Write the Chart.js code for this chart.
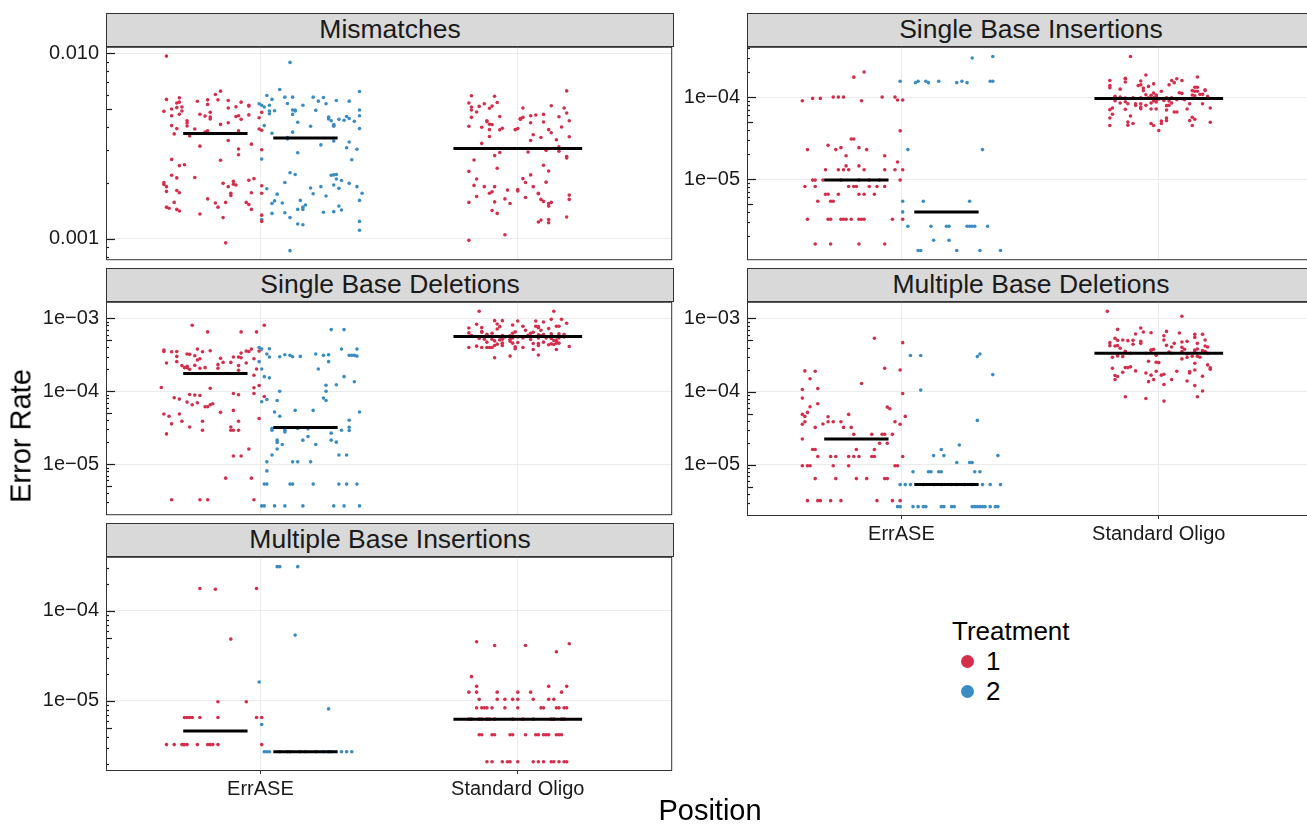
<!DOCTYPE html>
<html>
<head>
<meta charset="utf-8">
<title>Error Rate by Position</title>
<script src="https://cdn.jsdelivr.net/npm/chart.js@4.4.1/dist/chart.umd.min.js"></script>
<style>
  html, body { margin: 0; padding: 0; background: #fff; width: 1307px; height: 826px; overflow: hidden;
    font-family: "Liberation Sans", Arial, Helvetica, sans-serif; color: #1a1a1a; }
  canvas { position: absolute; }
  .strip { position: absolute; box-sizing: border-box; background: #d9d9d9; border: 1px solid #333;
    text-align: center; font-size: 26.5px; line-height: 31px; color: #1a1a1a; white-space: nowrap; }
  .title { position: absolute; font-size: 29px; color: #000; white-space: nowrap; }
  .legend { position: absolute; left: 952px; top: 616px; }
  .legend .head { font-size: 26px; line-height: 30px; color: #000; }
  .legend .item { position: relative; height: 30px; font-size: 26px; line-height: 30px; padding-left: 34px; color: #000; }
  .legend .dot { position: absolute; left: 9px; top: 8.5px; width: 13px; height: 13px; border-radius: 50%; }
</style>
</head>
<body>
<script>
// ---- categories, labels ----
const categories = ['ErrASE', 'Standard Oligo'];
const treatments = ['1', '2'];
const facetTitles = ['Mismatches', 'Single Base Insertions', 'Single Base Deletions',
  'Multiple Base Deletions', 'Multiple Base Insertions'];
const xTitle = 'Position';
const yTitle = 'Error Rate';
const legendTitle = 'Treatment';

// ---- Mismatches ----
const mmErr1Jit = [-0.19,-0.19,-0.14,-0.15,-0.14,-0.17,-0.15,-0.13,-0.20,-0.13,
  -0.14,-0.17,-0.11,-0.11,-0.11,-0.17,-0.15,-0.16,-0.10,-0.07,
  -0.03,-0.03,0.00,0.02,0.01,0.05,0.10,0.08,0.05,0.13,
  0.13,-0.06,-0.04,-0.02,-0.02,-0.02,0.05,0.02,0.08,0.09,
  0.10,0.13,-0.08,-0.04,-0.03,0.09,0.17,0.18,0.17,0.18,
  0.05,-0.06,0.09,0.09,0.14,0.18,-0.17,-0.14,-0.12,0.02,
  -0.17,-0.15,-0.08,-0.20,-0.20,-0.19,-0.19,-0.15,-0.14,0.03,
  0.05,0.07,0.07,0.08,0.06,0.06,0.13,0.15,0.14,0.18,
  0.18,-0.16,-0.19,-0.18,-0.15,-0.14,-0.06,-0.03,0.00,0.01,
  0.04,0.03,0.12,0.13,0.14,0.18,0.18,0.04];
const mmErr1Rate = [0.00968,0.00565,0.00576,0.00540,0.00546,0.00501,0.00510,0.00514,0.00487,0.00489,
  0.00470,0.00461,0.00433,0.00421,0.00406,0.00408,0.00393,0.00368,0.00359,0.00552,
  0.00562,0.00531,0.00600,0.00626,0.00562,0.00557,0.00546,0.00516,0.00508,0.00525,
  0.00520,0.00470,0.00459,0.00481,0.00454,0.00443,0.00423,0.00414,0.00457,0.00461,
  0.00441,0.00466,0.00391,0.00376,0.00382,0.00382,0.00450,0.00481,0.00391,0.00385,
  0.00339,0.00316,0.00305,0.00284,0.00324,0.00302,0.00268,0.00248,0.00251,0.00265,
  0.00220,0.00213,0.00214,0.00196,0.00201,0.00191,0.00180,0.00182,0.00177,0.00199,
  0.00191,0.00197,0.00204,0.00195,0.00176,0.00171,0.00207,0.00211,0.00177,0.00193,
  0.00176,0.00157,0.00148,0.00146,0.00144,0.00141,0.00136,0.00164,0.00156,0.00148,
  0.00157,0.00130,0.00157,0.00153,0.00144,0.00134,0.00124,0.00095];
const mmErr2Jit = [-0.06,-0.18,-0.17,-0.15,-0.13,-0.10,-0.08,-0.07,-0.05,-0.01,
  0.03,0.05,0.07,0.08,0.12,0.17,0.21,-0.16,-0.14,-0.14,
  -0.14,-0.12,-0.05,-0.04,-0.04,-0.05,0.04,-0.03,0.02,0.09,
  0.09,0.09,0.10,0.11,0.11,0.11,0.13,0.15,0.16,0.17,
  0.19,0.21,0.21,0.21,-0.16,-0.13,-0.07,-0.05,-0.07,0.06,
  0.11,0.17,0.16,0.20,-0.03,0.18,-0.17,-0.06,-0.04,0.10,
  0.11,0.12,0.12,0.14,0.11,0.13,0.17,0.20,-0.08,-0.15,
  -0.11,0.02,0.03,0.06,0.08,0.22,0.21,-0.12,-0.13,-0.09,
  -0.02,-0.01,-0.01,0.00,-0.03,0.13,0.14,0.11,0.07,-0.13,
  -0.08,-0.06,-0.03,-0.01,0.21,0.21,-0.17,-0.06];
const mmErr2Rate = [0.00895,0.00535,0.00525,0.00593,0.00565,0.00639,0.00581,0.00537,0.00581,0.00525,
  0.00581,0.00553,0.00579,0.00535,0.00557,0.00553,0.00623,0.00514,0.00489,0.00473,
  0.00525,0.00491,0.00495,0.00495,0.00489,0.00469,0.00493,0.00425,0.00405,0.00450,
  0.00454,0.00443,0.00433,0.00405,0.00410,0.00413,0.00441,0.00436,0.00457,0.00446,
  0.00430,0.00495,0.00461,0.00393,0.00408,0.00371,0.00352,0.00376,0.00346,0.00321,
  0.00337,0.00333,0.00310,0.00304,0.00291,0.00267,0.00269,0.00227,0.00222,0.00220,
  0.00221,0.00222,0.00210,0.00206,0.00195,0.00187,0.00199,0.00191,0.00201,0.00186,
  0.00174,0.00188,0.00175,0.00191,0.00170,0.00176,0.00161,0.00160,0.00155,0.00156,
  0.00161,0.00148,0.00144,0.00152,0.00144,0.00150,0.00143,0.00140,0.00139,0.00137,
  0.00138,0.00130,0.00120,0.00119,0.00124,0.00111,0.00127,0.000862];
const mmStd1Jit = [-0.18,-0.09,0.19,-0.19,-0.18,-0.18,-0.15,-0.13,-0.10,-0.11,
  -0.08,-0.16,-0.18,-0.07,-0.12,-0.12,-0.11,-0.10,-0.11,-0.14,
  -0.19,-0.07,-0.06,-0.11,0.02,0.01,0.02,0.01,0.05,0.07,
  0.10,0.05,0.10,0.13,0.16,0.18,0.19,0.20,0.17,0.12,
  0.13,0.09,0.06,0.05,0.15,0.20,0.00,-0.01,-0.14,-0.09,
  -0.07,0.04,0.11,0.16,0.16,0.19,0.19,-0.17,-0.19,-0.08,
  -0.16,-0.17,-0.13,-0.09,-0.10,-0.11,-0.16,-0.19,-0.09,-0.04,
  -0.05,-0.03,-0.10,-0.08,0.00,0.00,0.02,0.03,0.05,0.06,
  0.03,0.08,0.08,0.10,0.12,0.11,0.09,0.10,0.12,0.13,
  0.12,0.20,0.20,0.19,0.08,0.09,0.12,0.12,-0.05,-0.19];
const mmStd1Rate = [0.00591,0.00588,0.00628,0.00540,0.00514,0.00495,0.00518,0.00535,0.00520,0.00506,
  0.00544,0.00483,0.00452,0.00457,0.00433,0.00428,0.00415,0.00413,0.00388,0.00400,
  0.00405,0.00387,0.00395,0.00356,0.00508,0.00445,0.00452,0.00441,0.00461,0.00465,
  0.00469,0.00423,0.00427,0.00522,0.00455,0.00508,0.00477,0.00433,0.00401,0.00388,
  0.00373,0.00352,0.00364,0.00339,0.00342,0.00355,0.00393,0.00388,0.00327,0.00281,
  0.00292,0.00294,0.00300,0.00313,0.00297,0.00278,0.00273,0.00266,0.00231,0.00240,
  0.00210,0.00194,0.00191,0.00191,0.00179,0.00176,0.00169,0.00157,0.00158,0.00183,
  0.00164,0.00155,0.00142,0.00137,0.00184,0.00181,0.00211,0.00201,0.00221,0.00191,
  0.00167,0.00176,0.00175,0.00249,0.00232,0.00202,0.00163,0.00159,0.00155,0.00157,
  0.00150,0.00172,0.00163,0.00131,0.00123,0.00126,0.00127,0.00122,0.00105,0.00098];
const mmMedians = [0.00370, 0.00350, 0.00307];

// ---- Single Base Insertions ----
const sbiErr1Jit = [-0.01,0.03,-0.21,-0.17,-0.14,-0.09,-0.07,-0.05,0.02,0.10,
  0.15,0.16,0.18,0.17,-0.19,-0.11,-0.08,-0.06,-0.02,-0.01,
  0.01,0.04,-0.04,0.11,0.16,-0.12,-0.07,-0.05,-0.03,-0.04,
  0.01,0.03,0.11,0.15,0.18,-0.17,-0.16,-0.13,-0.06,0.01,
  0.05,0.09,0.17,-0.20,-0.16,-0.03,-0.01,0.00,0.05,0.08,
  0.11,-0.12,-0.11,-0.07,0.01,0.03,0.07,-0.15,-0.10,-0.09,
  -0.19,-0.11,-0.10,-0.06,-0.05,-0.04,-0.02,0.01,0.02,0.03,
  0.14,0.18,-0.16,-0.10,0.01,0.11];
const sbiErr1Rate = [1.75e-4,2.02e-4,9.03e-5,9.64e-5,9.64e-5,1.00e-4,1.00e-4,1.00e-4,9.03e-5,1.00e-4,
  1.00e-4,9.20e-5,9.20e-5,3.88e-5,2.29e-5,2.58e-5,2.29e-5,2.42e-5,3.08e-5,3.08e-5,
  2.42e-5,2.29e-5,1.93e-5,1.93e-5,1.62e-5,1.30e-5,1.30e-5,1.30e-5,1.30e-5,1.45e-5,
  1.45e-5,1.30e-5,1.30e-5,1.30e-5,1.30e-5,9.73e-6,9.73e-6,9.73e-6,9.73e-6,9.73e-6,
  9.73e-6,9.73e-6,9.73e-6,8.15e-6,8.15e-6,8.15e-6,8.15e-6,8.15e-6,8.15e-6,8.15e-6,
  8.15e-6,6.53e-6,6.53e-6,6.53e-6,6.53e-6,6.53e-6,6.53e-6,5.37e-6,5.37e-6,5.37e-6,
  3.25e-6,3.25e-6,3.25e-6,3.25e-6,3.25e-6,3.25e-6,3.25e-6,3.25e-6,3.25e-6,3.25e-6,
  3.25e-6,3.25e-6,1.62e-6,1.62e-6,1.62e-6,1.62e-6];
const sbiErr2Jit = [0.10,0.18,-0.18,-0.12,-0.11,-0.08,-0.07,-0.03,0.04,0.06,
  0.08,0.17,0.18,-0.15,0.14,-0.17,-0.09,0.09,-0.17,-0.15,
  -0.06,0.00,0.01,0.08,0.09,0.10,0.11,0.16,-0.05,0.01,
  -0.11,-0.10,0.04,0.13,0.21];
const sbiErr2Rate = [2.99e-4,3.13e-4,1.56e-4,1.50e-4,1.56e-4,1.56e-4,1.50e-4,1.56e-4,1.50e-4,1.56e-4,
  1.50e-4,1.56e-4,1.56e-4,2.29e-5,2.29e-5,5.37e-6,5.37e-6,5.37e-6,3.99e-6,2.67e-6,
  2.67e-6,2.67e-6,2.67e-6,2.67e-6,2.67e-6,2.67e-6,2.67e-6,2.67e-6,1.80e-6,1.80e-6,
  1.35e-6,1.35e-6,1.35e-6,1.35e-6,1.35e-6];
const sbiStd1Jit = [-0.11,-0.19,-0.19,-0.19,-0.13,-0.13,-0.13,-0.15,-0.05,-0.07,
  -0.08,-0.07,-0.06,-0.06,-0.04,-0.02,0.04,0.05,0.07,0.06,
  0.09,0.15,0.13,0.14,0.15,0.14,0.15,0.18,0.18,0.08,
  0.09,0.01,-0.05,-0.03,-0.02,-0.01,-0.01,-0.17,-0.15,-0.13,
  -0.10,-0.07,-0.04,0.00,0.03,0.05,0.07,0.10,0.13,0.14,
  0.16,0.17,0.19,-0.17,-0.15,-0.13,-0.12,-0.09,-0.09,-0.07,
  -0.07,-0.07,-0.05,-0.03,-0.02,-0.01,0.04,0.05,0.03,0.04,
  0.12,0.17,-0.18,-0.19,-0.13,-0.03,-0.01,0.03,0.06,0.07,
  0.11,0.20,-0.18,-0.11,-0.19,0.03,0.03,0.01,0.01,0.12,
  0.13,0.14,0.20,-0.19,-0.12,-0.12,-0.10,-0.03,-0.02,0.00,
  0.13,-0.02,-0.01,0.02,0.09];
const sbiStd1Rate = [3.13e-4,1.59e-4,1.38e-4,1.30e-4,1.67e-4,1.70e-4,1.53e-4,1.25e-4,1.86e-4,1.57e-4,
  1.38e-4,1.41e-4,1.29e-4,1.20e-4,1.35e-4,1.45e-4,1.41e-4,1.59e-4,1.67e-4,1.50e-4,
  1.59e-4,1.76e-4,1.20e-4,1.32e-4,1.32e-4,1.18e-4,1.18e-4,1.20e-4,1.23e-4,1.13e-4,
  1.11e-4,1.18e-4,1.07e-4,1.05e-4,1.12e-4,1.06e-4,1.02e-4,1.02e-4,1.00e-4,9.72e-5,
  9.81e-5,9.81e-5,9.81e-5,9.46e-5,9.81e-5,9.81e-5,9.30e-5,9.30e-5,1.06e-4,1.04e-4,
  1.08e-4,1.08e-4,1.02e-4,9.03e-5,8.46e-5,8.78e-5,8.30e-5,8.30e-5,7.93e-5,8.30e-5,
  7.57e-5,7.22e-5,7.93e-5,8.46e-5,8.95e-5,8.70e-5,8.95e-5,8.46e-5,7.86e-5,7.93e-5,
  8.30e-5,8.30e-5,7.36e-5,7.03e-5,7.09e-5,7.16e-5,7.16e-5,6.96e-5,6.58e-5,6.58e-5,
  7.16e-5,7.36e-5,6.17e-5,5.89e-5,5.57e-5,5.57e-5,5.17e-5,5.12e-5,4.76e-5,5.17e-5,
  5.67e-5,5.37e-5,4.94e-5,4.50e-5,4.55e-5,4.98e-5,4.76e-5,4.76e-5,4.50e-5,3.91e-5,
  4.50e-5,9.81e-5,9.30e-5,9.11e-5,9.55e-5];
const sbiMedians = [9.73e-6, 3.99e-6, 9.64e-5];

// ---- Single Base Deletions ----
const sbdErr1Jit = [-0.09,-0.03,0.10,0.16,0.19,-0.20,-0.20,-0.17,-0.15,-0.11,
  -0.10,-0.08,-0.07,-0.05,-0.06,-0.07,-0.02,-0.15,-0.15,-0.19,
  -0.13,-0.12,-0.11,-0.11,-0.10,-0.08,-0.06,-0.04,0.01,0.01,
  0.02,0.03,0.07,0.06,0.09,0.10,0.10,0.12,0.13,0.14,
  0.09,0.09,0.12,0.15,0.16,0.15,0.17,-0.21,-0.02,0.15,
  0.17,-0.10,-0.08,-0.06,0.07,0.09,0.15,-0.16,-0.14,-0.11,
  -0.09,-0.07,-0.04,-0.03,-0.02,-0.01,-0.20,-0.18,-0.14,0.02,
  0.07,-0.17,-0.13,-0.05,0.09,-0.19,-0.10,-0.05,0.06,0.06,
  0.07,0.09,0.17,0.13,0.07,0.10,0.19,0.04,0.14,-0.17,
  -0.06,-0.03,0.15];
const sbdErr1Rate = [8.03e-4,6.52e-4,6.52e-4,6.52e-4,8.03e-4,3.67e-4,3.52e-4,3.48e-4,3.52e-4,3.24e-4,
  3.21e-4,3.08e-4,3.79e-4,3.48e-4,2.80e-4,2.69e-4,3.59e-4,3.01e-4,2.55e-4,2.44e-4,
  2.25e-4,2.11e-4,2.11e-4,2.20e-4,2.00e-4,2.27e-4,2.07e-4,2.11e-4,2.32e-4,2.07e-4,
  2.83e-4,2.49e-4,2.95e-4,2.49e-4,2.95e-4,2.89e-4,3.34e-4,3.56e-4,3.52e-4,3.79e-4,
  2.25e-4,1.94e-4,2.44e-4,2.80e-4,2.02e-4,1.66e-4,3.56e-4,1.13e-4,1.10e-4,1.12e-4,
  1.20e-4,9.06e-5,8.87e-5,8.78e-5,9.35e-5,8.96e-5,9.35e-5,8.16e-5,7.82e-5,7.12e-5,
  6.55e-5,6.98e-5,6.15e-5,6.15e-5,6.55e-5,6.77e-5,4.89e-5,4.55e-5,4.89e-5,5.15e-5,
  5.48e-5,3.58e-5,3.89e-5,3.89e-5,3.89e-5,2.61e-5,3.25e-5,2.93e-5,3.25e-5,2.93e-5,
  2.93e-5,2.93e-5,4.23e-5,1.62e-5,1.30e-5,1.30e-5,8.51e-5,6.45e-6,6.45e-6,3.27e-6,
  3.27e-6,3.27e-6,3.27e-6];
const sbdErr2Jit = [-0.18,-0.17,-0.14,-0.15,-0.14,-0.10,-0.08,-0.06,-0.05,-0.02,
  0.04,0.07,0.09,0.09,0.14,0.20,0.17,0.18,0.19,0.20,
  0.10,0.15,-0.18,-0.17,-0.16,-0.14,0.05,0.08,0.12,0.15,
  0.19,-0.10,-0.15,-0.17,-0.11,0.07,0.08,0.08,-0.12,-0.10,
  -0.04,0.03,0.21,0.17,-0.13,-0.13,-0.08,-0.08,-0.08,-0.03,
  0.01,0.10,0.14,0.17,0.17,-0.11,-0.11,-0.09,-0.01,0.01,
  0.04,0.10,0.12,-0.11,-0.13,-0.15,-0.05,-0.03,0.02,0.13,
  0.16,-0.15,-0.15,-0.16,-0.06,-0.05,0.03,0.13,0.16,0.20,
  -0.17,-0.16,-0.12,-0.08,-0.01,0.11,0.15,0.21];
const sbdErr2Rate = [3.99e-4,3.79e-4,3.83e-4,3.24e-4,2.95e-4,2.98e-4,3.17e-4,3.11e-4,2.98e-4,3.01e-4,
  3.24e-4,3.11e-4,3.17e-4,2.55e-4,3.79e-4,3.79e-4,3.11e-4,3.11e-4,3.11e-4,3.04e-4,
  7.01e-4,7.01e-4,2.55e-4,2.02e-4,1.59e-4,1.53e-4,2.02e-4,1.21e-4,1.23e-4,1.59e-4,
  1.35e-4,1.00e-4,7.74e-5,7.19e-5,7.50e-5,8.07e-5,1.00e-4,7.50e-5,5.21e-5,4.55e-5,
  5.48e-5,5.48e-5,5.21e-5,4.01e-5,3.09e-5,2.93e-5,3.06e-5,2.78e-5,2.90e-5,3.09e-5,
  3.06e-5,2.67e-5,2.93e-5,3.22e-5,2.90e-5,2.14e-5,1.99e-5,1.87e-5,2.14e-5,2.40e-5,
  1.87e-5,2.14e-5,2.01e-5,1.62e-5,1.34e-5,1.08e-5,1.08e-5,1.08e-5,1.08e-5,1.34e-5,
  1.34e-5,8.11e-6,5.35e-6,5.35e-6,5.35e-6,5.35e-6,5.35e-6,5.35e-6,5.35e-6,5.35e-6,
  2.69e-6,2.69e-6,2.69e-6,2.69e-6,2.69e-6,2.69e-6,2.69e-6,2.69e-6];
const sbdStd1Jit = [-0.15,0.14,-0.09,-0.06,0.00,0.07,0.10,0.13,0.17,0.19,
  -0.16,-0.08,-0.07,-0.02,0.02,0.03,0.07,0.08,0.08,0.09,
  0.12,0.15,0.16,-0.19,-0.14,-0.08,-0.19,-0.14,-0.14,-0.12,
  -0.10,-0.06,-0.02,-0.01,0.05,0.06,0.08,0.10,0.13,0.16,
  0.18,-0.18,-0.15,-0.13,-0.10,-0.09,-0.07,-0.06,-0.03,-0.02,
  0.00,0.02,0.04,0.05,0.08,0.11,0.13,0.15,0.16,0.18,
  -0.12,-0.09,-0.08,-0.06,-0.06,-0.03,-0.02,0.00,-0.12,-0.11,
  -0.10,-0.16,-0.14,-0.19,-0.01,-0.01,0.02,0.06,0.08,0.08,
  0.12,0.13,0.14,0.15,0.16,0.06,0.15,0.20,0.08,-0.03,
  -0.09,-0.03,-0.12,-0.05,0.04,0.09,0.14,0.15,0.10];
const sbdStd1Rate = [1.25e-3,1.25e-3,9.30e-4,9.30e-4,9.20e-4,9.20e-4,8.92e-4,9.69e-4,9.69e-4,8.55e-4,
  8.29e-4,8.37e-4,7.70e-4,8.11e-4,7.78e-4,6.87e-4,7.78e-4,7.46e-4,7.70e-4,6.87e-4,
  7.24e-4,7.78e-4,7.78e-4,7.39e-4,7.46e-4,7.16e-4,6.32e-4,6.52e-4,6.52e-4,6.06e-4,
  6.25e-4,5.81e-4,6.25e-4,6.52e-4,6.25e-4,6.45e-4,5.93e-4,5.99e-4,6.12e-4,6.12e-4,
  5.99e-4,5.81e-4,5.29e-4,5.18e-4,5.18e-4,4.91e-4,5.07e-4,5.18e-4,5.18e-4,5.40e-4,
  5.57e-4,5.40e-4,5.63e-4,5.13e-4,5.40e-4,5.40e-4,5.29e-4,5.57e-4,5.40e-4,5.57e-4,
  4.72e-4,4.25e-4,4.43e-4,4.25e-4,4.57e-4,4.86e-4,4.57e-4,4.67e-4,3.99e-4,3.99e-4,
  3.99e-4,4.16e-4,3.99e-4,3.99e-4,3.83e-4,4.07e-4,3.99e-4,4.52e-4,4.52e-4,4.25e-4,
  4.34e-4,4.47e-4,4.38e-4,4.57e-4,4.57e-4,3.75e-4,3.75e-4,4.12e-4,3.14e-4,3.04e-4,
  2.89e-4,5.75e-4,5.75e-4,5.57e-4,5.87e-4,5.75e-4,4.97e-4,4.97e-4,4.72e-4];
const sbdMedians = [1.75e-4, 3.19e-5, 5.63e-4];

// ---- Multiple Base Deletions ----
const mbdErr1Jit = [0.07,0.18,-0.20,-0.16,-0.18,-0.15,-0.21,0.02,0.11,0.17,
  0.18,-0.21,-0.18,-0.15,-0.21,-0.20,-0.19,-0.20,-0.21,-0.16,
  -0.13,-0.11,-0.11,-0.09,-0.06,-0.03,-0.05,-0.02,-0.01,0.06,
  0.10,0.11,0.12,0.13,0.15,0.17,0.14,-0.21,-0.17,-0.16,
  -0.15,-0.10,-0.08,-0.03,-0.01,0.00,0.01,0.06,0.07,0.07,
  0.09,0.12,0.19,0.18,-0.21,-0.19,-0.18,-0.09,-0.03,0.15,
  0.16,-0.16,-0.08,0.00,0.04,0.11,0.12,-0.19,-0.15,-0.14,
  -0.10,-0.06,0.08,0.14,0.17];
const mbdErr1Rate = [5.35e-4,4.67e-4,1.92e-4,1.90e-4,1.50e-4,1.10e-4,1.07e-4,1.29e-4,2.09e-4,1.98e-4,
  9.44e-5,8.16e-5,6.22e-5,6.83e-5,4.89e-5,4.59e-5,5.21e-5,3.89e-5,3.58e-5,3.25e-5,
  3.61e-5,4.55e-5,3.89e-5,3.89e-5,3.89e-5,4.89e-5,3.25e-5,3.25e-5,2.61e-5,2.61e-5,
  2.61e-5,2.61e-5,6.15e-5,5.84e-5,3.89e-5,3.58e-5,2.61e-5,2.26e-5,1.62e-5,1.62e-5,
  1.30e-5,1.30e-5,1.30e-5,1.30e-5,1.30e-5,1.62e-5,1.30e-5,1.30e-5,1.62e-5,1.30e-5,
  1.97e-5,1.97e-5,4.59e-5,1.30e-5,9.75e-6,9.75e-6,9.75e-6,9.75e-6,9.75e-6,9.75e-6,
  9.75e-6,6.50e-6,6.50e-6,6.50e-6,6.50e-6,6.50e-6,6.50e-6,3.25e-6,3.25e-6,3.25e-6,
  3.25e-6,3.25e-6,3.25e-6,3.25e-6,3.25e-6];
const mbdErr2Jit = [-0.14,-0.10,0.12,0.13,0.18,-0.10,0.12,0.05,-0.02,-0.05,
  -0.01,0.20,0.04,0.09,0.10,-0.13,-0.07,-0.06,-0.03,-0.02,
  0.11,0.13,-0.18,-0.16,-0.14,-0.09,-0.05,-0.02,0.02,0.04,
  0.07,0.10,0.14,0.17,0.21,-0.19,-0.18,-0.13,-0.11,-0.09,
  -0.08,-0.02,-0.01,0.02,0.03,0.10,0.11,0.12,0.13,0.14,
  0.15,0.17,0.19,0.20];
const mbdErr2Rate = [3.11e-4,3.11e-4,3.01e-4,3.27e-4,1.71e-4,1.05e-4,4.05e-5,1.87e-5,1.62e-5,1.34e-5,
  1.34e-5,1.34e-5,1.08e-5,1.08e-5,1.08e-5,8.07e-6,8.07e-6,8.07e-6,8.07e-6,8.07e-6,
  8.07e-6,8.07e-6,5.38e-6,5.38e-6,5.38e-6,5.38e-6,5.38e-6,5.38e-6,5.38e-6,5.38e-6,
  5.38e-6,5.38e-6,5.38e-6,5.38e-6,5.38e-6,2.69e-6,2.69e-6,2.69e-6,2.69e-6,2.69e-6,
  2.69e-6,2.69e-6,2.69e-6,2.69e-6,2.69e-6,2.69e-6,2.69e-6,2.69e-6,2.69e-6,2.69e-6,
  2.69e-6,2.69e-6,2.69e-6,2.69e-6];
const mbdStd1Jit = [-0.20,0.09,-0.07,-0.06,-0.16,-0.09,-0.03,0.03,0.02,0.08,
  0.14,0.17,-0.17,-0.16,-0.14,-0.12,-0.10,-0.07,-0.07,-0.10,
  -0.19,-0.19,-0.17,-0.16,-0.15,-0.13,-0.18,-0.16,-0.14,-0.03,
  -0.03,-0.02,-0.01,0.02,0.03,0.05,0.06,0.09,0.11,0.09,
  0.10,0.09,0.04,0.14,0.15,0.18,0.18,0.19,0.14,0.14,
  0.15,0.17,0.18,0.19,0.09,0.11,0.13,0.15,0.16,0.14,
  -0.04,-0.01,0.00,0.19,0.20,0.20,-0.18,-0.13,-0.12,-0.11,
  -0.09,-0.14,-0.05,-0.03,-0.01,0.01,0.02,0.07,0.12,0.12,
  0.14,0.17,-0.17,-0.16,-0.17,-0.04,-0.02,0.02,0.05,0.11,
  0.14,0.17,0.15,-0.13,-0.05,0.02,-0.05,0.05,-0.11,0.11];
const mbdStd1Rate = [1.25e-3,1.07e-3,7.39e-4,6.52e-4,7.08e-4,6.12e-4,6.38e-4,6.65e-4,5.81e-4,6.32e-4,
  6.06e-4,6.06e-4,5.35e-4,5.02e-4,5.07e-4,4.97e-4,5.02e-4,4.86e-4,4.57e-4,4.43e-4,
  4.67e-4,4.25e-4,4.20e-4,4.25e-4,3.91e-4,3.56e-4,2.95e-4,3.08e-4,3.01e-4,3.67e-4,
  3.71e-4,3.79e-4,3.14e-4,5.07e-4,4.29e-4,4.07e-4,4.57e-4,4.77e-4,4.86e-4,4.03e-4,
  3.79e-4,3.52e-4,3.48e-4,5.51e-4,4.57e-4,5.07e-4,4.20e-4,4.07e-4,3.71e-4,3.63e-4,
  3.83e-4,3.63e-4,3.52e-4,3.34e-4,2.80e-4,2.92e-4,3.04e-4,3.04e-4,2.95e-4,2.44e-4,
  2.60e-4,2.52e-4,2.49e-4,2.32e-4,2.11e-4,2.02e-4,2.09e-4,2.13e-4,2.13e-4,2.18e-4,
  1.92e-4,1.84e-4,1.80e-4,1.68e-4,1.90e-4,1.68e-4,1.73e-4,1.90e-4,1.88e-4,1.80e-4,
  1.98e-4,1.62e-4,1.66e-4,1.61e-4,1.46e-4,1.37e-4,1.46e-4,1.25e-4,1.46e-4,1.40e-4,
  1.21e-4,1.02e-4,8.51e-5,8.51e-5,8.07e-5,7.43e-5,3.34e-4,3.34e-4,3.34e-4,3.27e-4];
const mbdMedians = [2.26e-5, 5.38e-6, 3.34e-4];

// ---- Multiple Base Insertions ----
const mbiErr1Jit = [-0.06,0.00,0.16,0.06,0.01,0.12,-0.12,-0.11,-0.10,-0.09,
  -0.06,0.01,0.16,0.18,-0.19,-0.16,-0.13,-0.125,-0.12,-0.11,
  -0.07,-0.03,-0.02,-0.01,0.01,0.18];
const mbiErr1Rate = [1.77e-4,1.74e-4,1.77e-4,4.86e-5,9.80e-6,9.80e-6,6.53e-6,6.53e-6,6.53e-6,6.53e-6,
  6.53e-6,6.53e-6,6.53e-6,6.53e-6,3.27e-6,3.27e-6,3.27e-6,3.27e-6,3.27e-6,3.27e-6,
  3.27e-6,3.27e-6,3.27e-6,3.27e-6,3.27e-6,3.27e-6];
const mbiErr2Jit = [-0.11,-0.10,-0.03,-0.04,-0.18,0.09,-0.17,-0.16,-0.15,-0.14,
  -0.10,-0.07,-0.06,-0.02,0.00,0.04,0.07,0.09,0.10,0.14,
  0.16,0.18];
const mbiErr2Rate = [3.10e-4,3.10e-4,3.10e-4,5.38e-5,1.62e-5,8.15e-6,5.47e-6,2.72e-6,2.72e-6,2.72e-6,
  2.72e-6,2.72e-6,2.72e-6,2.72e-6,2.72e-6,2.72e-6,2.72e-6,2.72e-6,2.72e-6,2.72e-6,
  2.72e-6,2.72e-6];
const mbiStd1Jit = [-0.16,-0.09,0.03,0.15,0.20,-0.18,-0.16,0.12,0.19,
  -0.19,-0.16,-0.08,0.00,0.05,0.17,
  -0.15,-0.08,-0.05,-0.02,0.00,0.06,0.12,0.14,
  -0.16,-0.14,-0.13,-0.12,-0.10,-0.05,0.00,0.09,0.10,0.15,0.16,0.18,0.19,
  -0.19,-0.18,-0.15,-0.14,-0.12,-0.11,-0.09,-0.02,0.02,0.06,0.13,0.14,0.17,0.18,
  -0.15,-0.14,-0.10,-0.09,-0.03,-0.02,0.03,0.07,0.08,0.10,0.11,0.12,0.15,0.16,0.17,
  -0.12,-0.10,-0.06,-0.04,-0.03,0.00,0.06,0.08,0.10,0.13,0.14,0.16,0.18,0.19];
const mbiStd1Rate = [4.54e-5,4.13e-5,4.13e-5,3.52e-5,4.32e-5,1.86e-5,1.45e-5,1.45e-5,1.45e-5,
  1.25e-5,1.25e-5,1.25e-5,1.25e-5,1.25e-5,1.25e-5,
  1.04e-5,1.04e-5,1.04e-5,1.04e-5,1.04e-5,1.04e-5,1.04e-5,1.04e-5,
  8.37e-6,8.37e-6,8.37e-6,8.37e-6,8.37e-6,8.37e-6,8.37e-6,8.37e-6,8.37e-6,8.37e-6,8.37e-6,8.37e-6,8.37e-6,
  6.27e-6,6.27e-6,6.27e-6,6.27e-6,6.27e-6,6.27e-6,6.27e-6,6.27e-6,6.27e-6,6.27e-6,6.27e-6,6.27e-6,6.27e-6,6.27e-6,
  4.21e-6,4.21e-6,4.21e-6,4.21e-6,4.21e-6,4.21e-6,4.21e-6,4.21e-6,4.21e-6,4.21e-6,4.21e-6,4.21e-6,4.21e-6,4.21e-6,4.21e-6,
  2.11e-6,2.11e-6,2.11e-6,2.11e-6,2.11e-6,2.11e-6,2.11e-6,2.11e-6,2.11e-6,2.11e-6,2.11e-6,2.11e-6,2.11e-6,2.11e-6];
const mbiMedians = [4.62e-6, 2.72e-6, 6.27e-6];

// ---- drawing ----
const COLORS = ['#d62d4a', '#3a8cc5'];
const FONT = '"Liberation Sans", Arial, Helvetica, sans-serif';
Chart.defaults.font.family = FONT;

const facets = [
  { title: facetTitles[0], col: 0, row: 0, yMin: 10 ** -3.116, yMax: 10 ** -1.964, fixed: true,
    groups: [[mmErr1Jit, mmErr1Rate], [mmErr2Jit, mmErr2Rate], [mmStd1Jit, mmStd1Rate]], medians: mmMedians },
  { title: facetTitles[1], col: 1, row: 0, yMin: 10 ** -5.988, yMax: 10 ** -3.387,
    groups: [[sbiErr1Jit, sbiErr1Rate], [sbiErr2Jit, sbiErr2Rate], [sbiStd1Jit, sbiStd1Rate]], medians: sbiMedians },
  { title: facetTitles[2], col: 0, row: 1, yMin: 10 ** -5.698, yMax: 10 ** -2.773,
    groups: [[sbdErr1Jit, sbdErr1Rate], [sbdErr2Jit, sbdErr2Rate], [sbdStd1Jit, sbdStd1Rate]], medians: sbdMedians },
  { title: facetTitles[3], col: 1, row: 1, yMin: 10 ** -5.698, yMax: 10 ** -2.773, xLabels: true,
    groups: [[mbdErr1Jit, mbdErr1Rate], [mbdErr2Jit, mbdErr2Rate], [mbdStd1Jit, mbdStd1Rate]], medians: mbdMedians },
  { title: facetTitles[4], col: 0, row: 2, yMin: 10 ** -5.779, yMax: 10 ** -3.399, xLabels: true,
    groups: [[mbiErr1Jit, mbiErr1Rate], [mbiErr2Jit, mbiErr2Rate], [mbiStd1Jit, mbiStd1Rate]], medians: mbiMedians }
];

// group layout: [category index, treatment index]
const groupKeys = [[0, 0], [0, 1], [1, 0]];
const DODGE = 0.175;

function groupCenter(cat, trt) {
  if (cat === 1) return 2;
  return 1 + (trt === 0 ? -DODGE : DODGE);
}

function toPoints(jit, rate, center) {
  const n = Math.min(jit.length, rate.length);
  const pts = [];
  for (let i = 0; i < n; i++) pts.push({ x: center + jit[i], y: rate[i] });
  return pts;
}

function fmtTick(v, fixed) {
  if (fixed) return v.toFixed(3);
  const e = Math.round(Math.log10(v));
  const s = String(Math.abs(e)).padStart(2, '0');
  return '1e' + (e < 0 ? '\u2212' : '+') + s;
}

// frame + annotation log ticks along the left edge
const panelDecor = {
  id: 'panelDecor',
  afterDatasetsDraw(chart) {
    const { ctx, chartArea: a, scales: { y } } = chart;
    ctx.save();
    ctx.strokeStyle = '#1a1a1a';
    ctx.lineWidth = 1.2;
    const lo = Math.floor(Math.log10(y.min)), hi = Math.ceil(Math.log10(y.max));
    for (let e = lo; e <= hi; e++) {
      for (let k = 1; k <= 9; k++) {
        const v = k * 10 ** e;
        if (v < y.min || v > y.max) continue;
        const py = Math.round(y.getPixelForValue(v)) + 0.5;
        const len = k === 1 ? 9 : (k === 5 ? 6 : 3);
        ctx.beginPath();
        ctx.moveTo(a.left, py);
        ctx.lineTo(a.left + len, py);
        ctx.stroke();
      }
    }
    ctx.strokeStyle = '#333';
    ctx.lineWidth = 1;
    ctx.strokeRect(a.left + 0.5, a.top + 0.5, a.right - a.left - 1, a.bottom - a.top - 1);
    ctx.restore();
  }
};

const PLOT_W = 567, PLOT_H = 215, Y_AXIS_W = 100, X_AXIS_H = 40;
const colLeft = [106, 747];
const rowTop = [46, 301, 556];

function zeroPad(s) { s.paddingTop = 0; s.paddingBottom = 0; s.paddingLeft = 0; s.paddingRight = 0; }

facets.forEach(f => {
  const left = colLeft[f.col];
  const top = rowTop[f.row];
  const xh = f.xLabels ? X_AXIS_H : 0;

  const strip = document.createElement('div');
  strip.className = 'strip';
  strip.style.left = left + 'px';
  strip.style.top = (top - 33) + 'px';
  strip.style.width = (PLOT_W + 1) + 'px';
  strip.style.height = '34px';
  strip.textContent = f.title;
  document.body.appendChild(strip);

  const cv = document.createElement('canvas');
  cv.width = Y_AXIS_W + PLOT_W + 1;
  cv.height = PLOT_H + 2 + xh;
  cv.style.left = (left - Y_AXIS_W) + 'px';
  cv.style.top = (top - 1) + 'px';
  document.body.appendChild(cv);

  const datasets = [];
  // median bars first so they are painted above the points
  groupKeys.forEach(([cat, trt], gi) => {
    const c = groupCenter(cat, trt);
    const half = cat === 1 ? 0.25 : 0.125;
    datasets.push({
      type: 'line', data: [{ x: c - half, y: f.medians[gi] }, { x: c + half, y: f.medians[gi] }],
      borderColor: '#000', borderWidth: 3, pointRadius: 0, fill: false, order: 0, borderCapStyle: 'butt'
    });
  });
  [0, 1].forEach(trt => {
    let pts = [];
    groupKeys.forEach(([cat, t], gi) => {
      if (t !== trt) return;
      const [jit, rate] = f.groups[gi];
      pts = pts.concat(toPoints(jit, rate, groupCenter(cat, t)));
    });
    datasets.push({
      type: 'scatter', label: treatments[trt], data: pts, order: 1,
      backgroundColor: COLORS[trt], borderWidth: 0, pointRadius: 1.8, pointHoverRadius: 1.8
    });
  });

  new Chart(cv, {
    type: 'scatter',
    data: { datasets },
    options: {
      responsive: false, animation: false, devicePixelRatio: 1,
      layout: { padding: { top: 1, bottom: 1, left: 0, right: 1 } },
      plugins: { legend: { display: false }, tooltip: { enabled: false } },
      events: [],
      scales: {
        x: {
          type: 'linear', min: 0.4, max: 2.6,
          afterBuildTicks: s => { s.ticks = [{ value: 1 }, { value: 2 }]; },
          afterFit: s => { s.height = xh; zeroPad(s); },
          border: { display: false },
          grid: { color: '#ebebeb', lineWidth: 1, drawTicks: !!f.xLabels, tickLength: 3, tickColor: '#333' },
          ticks: {
            display: !!f.xLabels, autoSkip: false, maxRotation: 0, minRotation: 0, padding: 3,
            color: '#1a1a1a', font: { size: 20 },
            callback: v => categories[Math.round(v) - 1]
          }
        },
        y: {
          type: 'logarithmic', min: f.yMin, max: f.yMax,
          afterBuildTicks: s => {
            const t = [];
            for (let e = Math.ceil(Math.log10(s.min)); e <= Math.floor(Math.log10(s.max)); e++) t.push({ value: 10 ** e });
            s.ticks = t;
          },
          afterFit: s => { s.width = Y_AXIS_W; zeroPad(s); },
          border: { display: false },
          grid: { color: '#ebebeb', lineWidth: 1, drawTicks: false },
          ticks: { padding: 7, color: '#1a1a1a', font: { size: 20 }, callback: v => fmtTick(v, f.fixed) }
        }
      }
    },
    plugins: [panelDecor]
  });
});

// axis titles
const yt = document.createElement('div');
yt.className = 'title';
yt.textContent = yTitle;
yt.style.left = '21px';
yt.style.top = '436px';
yt.style.transform = 'translate(-50%, -50%) rotate(-90deg)';
document.body.appendChild(yt);

const xt = document.createElement('div');
xt.className = 'title';
xt.textContent = xTitle;
xt.style.left = '710px';
xt.style.top = '810px';
xt.style.transform = 'translate(-50%, -50%)';
document.body.appendChild(xt);

// legend
const lg = document.createElement('div');
lg.className = 'legend';
const head = document.createElement('div');
head.className = 'head';
head.textContent = legendTitle;
lg.appendChild(head);
treatments.forEach((t, i) => {
  const it = document.createElement('div');
  it.className = 'item';
  const d = document.createElement('span');
  d.className = 'dot';
  d.style.background = COLORS[i];
  it.appendChild(d);
  it.appendChild(document.createTextNode(t));
  lg.appendChild(it);
});
document.body.appendChild(lg);
</script>
</body>
</html>
